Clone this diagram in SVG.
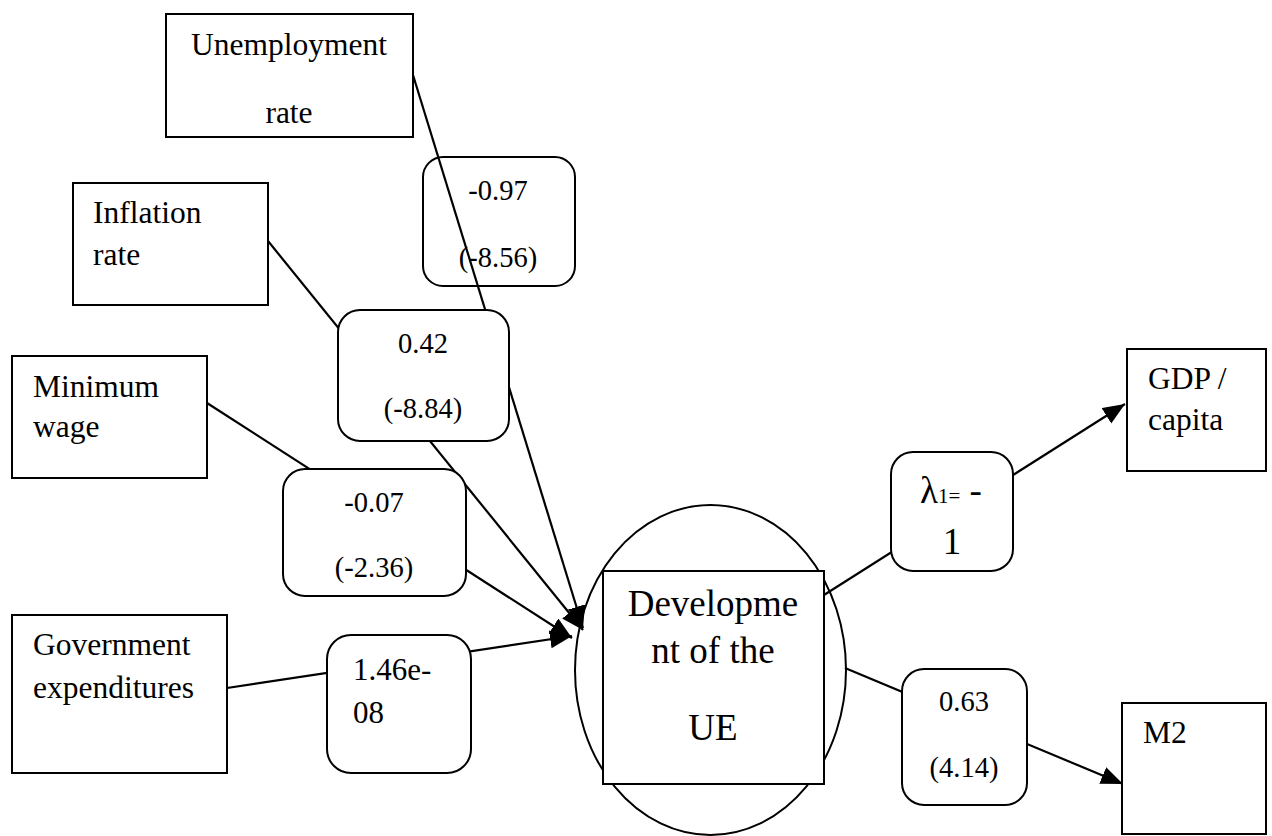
<svg xmlns="http://www.w3.org/2000/svg" width="1272" height="836" viewBox="0 0 1272 836">
<style>
  .box { fill: #fff; stroke: #000; stroke-width: 2; }
  .open { fill: none; stroke: #000; stroke-width: 2; }
  text { font-family: 'Liberation Serif', 'DejaVu Serif', serif; fill: #000; }
  .lbl { font-size: 31.5px; }
  .num { font-size: 28.5px; text-anchor: middle; }
  .big { font-size: 37px; text-anchor: middle; }
  .conn { fill: none; stroke: #000; stroke-width: 2.2; }
</style>
<defs>
  <marker id="arr" markerUnits="userSpaceOnUse" markerWidth="24" markerHeight="20" refX="22" refY="9" orient="auto">
    <path d="M0,0 L22,9 L0,18 z" fill="#000"/>
  </marker>
</defs>
<rect width="1272" height="836" fill="#fff"/>

<g id="n-ue">
  <ellipse cx="710.5" cy="670" rx="135.5" ry="165" class="open"/>
</g>

<g id="connectors">
  <line class="conn" x1="413" y1="75" x2="583" y2="628" marker-end="url(#arr)"/>
  <line class="conn" x1="268" y1="241" x2="583" y2="630" marker-end="url(#arr)"/>
  <line class="conn" x1="207" y1="403" x2="572" y2="638" marker-end="url(#arr)"/>
  <line class="conn" x1="227" y1="688" x2="572" y2="636" marker-end="url(#arr)"/>
  <line class="conn" x1="824" y1="595" x2="1125" y2="404" marker-end="url(#arr)"/>
  <line class="conn" x1="845" y1="668" x2="1123" y2="784" marker-end="url(#arr)"/>
</g>

<g id="n-unemployment">
  <rect x="166" y="14" width="247" height="123" class="box"/>
  <text class="lbl" x="289" y="55" text-anchor="middle">Unemployment</text>
  <text class="lbl" x="289" y="123" text-anchor="middle">rate</text>
</g>
<g id="n-inflation">
  <rect x="73" y="183" width="195" height="122" class="box"/>
  <text class="lbl" x="93" y="223">Inflation</text>
  <text class="lbl" x="93" y="265">rate</text>
</g>
<g id="n-minwage">
  <rect x="12" y="356" width="195" height="122" class="box"/>
  <text class="lbl" x="33" y="397">Minimum</text>
  <text class="lbl" x="33" y="437">wage</text>
</g>
<g id="n-gov">
  <rect x="12" y="615" width="215" height="158" class="box"/>
  <text class="lbl" x="33" y="655">Government</text>
  <text class="lbl" x="33" y="698">expenditures</text>
</g>

<g id="c-unemp">
  <rect x="423" y="157" width="152" height="129" rx="20" class="open"/>
  <text class="num" x="498" y="200">-0.97</text>
  <text class="num" x="498" y="267">(-8.56)</text>
</g>
<g id="c-infl">
  <rect x="338" y="310" width="171" height="131" rx="22" class="box"/>
  <text class="num" x="423" y="353">0.42</text>
  <text class="num" x="423" y="418">(-8.84)</text>
</g>
<g id="c-minw">
  <rect x="283" y="469" width="183" height="127" rx="22" class="box"/>
  <text class="num" x="374" y="512">-0.07</text>
  <text class="num" x="374" y="577">(-2.36)</text>
</g>
<g id="c-gov">
  <rect x="327" y="635" width="144" height="138" rx="24" class="box"/>
  <text class="lbl" x="353" y="680" style="font-size:31px">1.46e-</text>
  <text class="lbl" x="353" y="723" style="font-size:31px">08</text>
</g>

<g id="n-ue-box">
  <rect x="603" y="571" width="221" height="213" class="box"/>
  <text class="big" x="713" y="616">Developme</text>
  <text class="big" x="713" y="663">nt of the</text>
  <text class="big" x="713" y="740">UE</text>
</g>

<g id="c-gdp">
  <rect x="891" y="452" width="122" height="119" rx="22" class="box"/>
  <text class="big" x="920" y="503" style="text-anchor:start">λ<tspan style="font-size:21px">1=</tspan> -</text>
  <text class="big" x="952" y="554">1</text>
</g>
<g id="c-m2">
  <rect x="902" y="669" width="125" height="136" rx="22" class="box"/>
  <text class="num" x="964" y="711">0.63</text>
  <text class="num" x="964" y="777">(4.14)</text>
</g>

<g id="n-gdp">
  <rect x="1127" y="349" width="139" height="122" class="box"/>
  <text class="lbl" x="1148" y="389">GDP /</text>
  <text class="lbl" x="1148" y="430">capita</text>
</g>
<g id="n-m2">
  <rect x="1122" y="703" width="144" height="131" class="box"/>
  <text class="lbl" x="1143" y="743">M2</text>
</g>
</svg>
